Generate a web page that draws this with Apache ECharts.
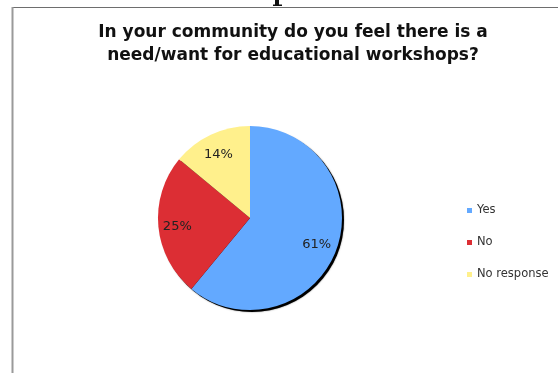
<!DOCTYPE html>
<html>
<head>
<meta charset="utf-8">
<style>
  html, body { margin: 0; padding: 0; background: #ffffff; }
  #chart { width: 558px; height: 373px; }
</style>
<script src="https://cdn.jsdelivr.net/npm/echarts@6/dist/echarts.min.js"></script>
</head>
<body>
<div id="chart"></div>
<script>
// Survey answers and their shares (percent)
const categories = ['Yes', 'No', 'No response'];
const shares = [61, 25, 14];
const sliceColors = ['#63a9ff', '#dc2e34', '#fff08c'];
const titleLines = ['In your community do you feel there is a', 'need/want for educational workshops?'];

const pieCenter = [250, 218];
const pieRadius = 92;

const data = categories.map((name, i) => ({
  name: name,
  value: shares[i],
  itemStyle: { color: sliceColors[i] }
}));

const chart = echarts.init(document.getElementById('chart'), null, { renderer: 'canvas' });

chart.setOption({
  animation: false,
  backgroundColor: '#ffffff',
  title: {
    text: titleLines.join('\n'),
    left: 293,
    top: 21,
    padding: 0,
    textAlign: 'center',
    textStyle: {
      fontFamily: 'DejaVu Sans',
      fontWeight: 'bold',
      fontSize: 17,
      lineHeight: 23,
      color: '#111111'
    }
  },
  legend: {
    orient: 'vertical',
    left: 467,
    top: 203.5,
    padding: 0,
    icon: 'rect',
    itemWidth: 5,
    itemHeight: 5,
    itemGap: 18,
    selectedMode: false,
    data: categories,
    textStyle: {
      fontFamily: 'DejaVu Sans',
      fontSize: 11.5,
      lineHeight: 14,
      color: '#333333'
    }
  },
  graphic: [
    // frame around the chart panel
    { type: 'line', z: 1, shape: { x1: 12, y1: 7.5, x2: 558, y2: 7.5 }, style: { stroke: '#6e6e6e', lineWidth: 1 } },
    { type: 'line', z: 1, shape: { x1: 12.5, y1: 7, x2: 12.5, y2: 373 }, style: { stroke: '#9a9a9a', lineWidth: 2 } },
    // foot of the heading letter above the panel
    { type: 'rect', z: 1, shape: { x: 275, y: 0, width: 4, height: 5 }, style: { fill: '#111111' } },
    { type: 'rect', z: 1, shape: { x: 273, y: 4.5, width: 9, height: 1.5 }, style: { fill: '#111111' } },
    // drop shadow under the pie
    {
      type: 'circle', z: 0,
      shape: { cx: pieCenter[0] + 2, cy: pieCenter[1] + 2, r: pieRadius },
      style: { fill: '#000000', shadowBlur: 1.5, shadowColor: 'rgba(0,0,0,0.6)' }
    }
  ],
  series: [
    {
      type: 'pie',
      z: 2,
      center: pieCenter,
      radius: pieRadius,
      startAngle: 90,
      clockwise: true,
      silent: true,
      label: { show: false },
      labelLine: { show: false },
      itemStyle: { borderWidth: 0 },
      emphasis: { disabled: true },
      data: data
    },
    {
      // transparent ring carrying the percentage labels
      type: 'pie',
      z: 3,
      center: pieCenter,
      radius: [46, pieRadius],
      startAngle: 90,
      clockwise: true,
      silent: true,
      itemStyle: { color: 'rgba(0,0,0,0)', borderWidth: 0 },
      labelLine: { show: false },
      emphasis: { disabled: true },
      label: {
        show: true,
        position: 'inside',
        offset: [-1, 2],
        formatter: p => p.value + '%',
        fontFamily: 'DejaVu Sans',
        fontSize: 13,
        color: '#222222'
      },
      data: categories.map((name, i) => ({ name: name, value: shares[i] }))
    }
  ]
});
</script>
</body>
</html>
